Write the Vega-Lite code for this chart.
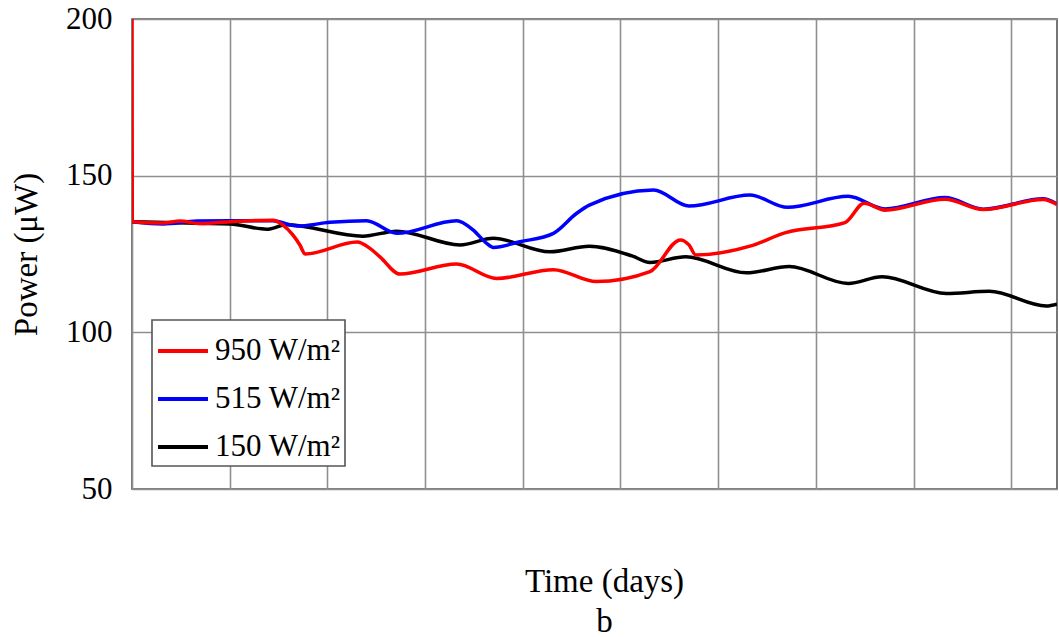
{
  "$schema": "https://vega.github.io/schema/vega-lite/v6.json",
  "width": 925,
  "height": 470,
  "autosize": {"type": "none"},
  "padding": {"left": 132, "top": 19, "right": 2, "bottom": 148},
  "background": "white",
  "config": {
    "view": {"stroke": "#555555", "strokeWidth": 1.6},
    "font": "Liberation Serif"
  },
  "data": {
    "values": [
      {"t": 0, "p": 135.3, "s": "150 W/m²"},
      {"t": 0.665, "p": 134.8, "s": "150 W/m²"},
      {"t": 1.003, "p": 134.6, "s": "150 W/m²"},
      {"t": 1.379, "p": 132.9, "s": "150 W/m²"},
      {"t": 1.58, "p": 134.3, "s": "150 W/m²"},
      {"t": 2.364, "p": 130.7, "s": "150 W/m²"},
      {"t": 2.709, "p": 132.3, "s": "150 W/m²"},
      {"t": 3.357, "p": 127.9, "s": "150 W/m²"},
      {"t": 3.698, "p": 130.0, "s": "150 W/m²"},
      {"t": 4.278, "p": 125.7, "s": "150 W/m²"},
      {"t": 4.681, "p": 127.5, "s": "150 W/m²"},
      {"t": 5.118, "p": 124.4, "s": "150 W/m²"},
      {"t": 5.302, "p": 122.3, "s": "150 W/m²"},
      {"t": 5.667, "p": 124.1, "s": "150 W/m²"},
      {"t": 6.289, "p": 119.0, "s": "150 W/m²"},
      {"t": 6.727, "p": 121.0, "s": "150 W/m²"},
      {"t": 7.331, "p": 115.6, "s": "150 W/m²"},
      {"t": 7.677, "p": 117.7, "s": "150 W/m²"},
      {"t": 8.336, "p": 112.4, "s": "150 W/m²"},
      {"t": 8.775, "p": 113.1, "s": "150 W/m²"},
      {"t": 9.359, "p": 108.4, "s": "150 W/m²"},
      {"t": 9.468, "p": 109.0, "s": "150 W/m²"},

      {"t": 0, "p": 135.3, "s": "515 W/m²"},
      {"t": 0.317, "p": 134.6, "s": "515 W/m²"},
      {"t": 0.665, "p": 135.5, "s": "515 W/m²"},
      {"t": 1.003, "p": 135.6, "s": "515 W/m²"},
      {"t": 1.443, "p": 135.6, "s": "515 W/m²"},
      {"t": 1.689, "p": 133.9, "s": "515 W/m²"},
      {"t": 2.027, "p": 135.1, "s": "515 W/m²"},
      {"t": 2.402, "p": 135.6, "s": "515 W/m²"},
      {"t": 2.709, "p": 131.6, "s": "515 W/m²"},
      {"t": 3.323, "p": 135.6, "s": "515 W/m²"},
      {"t": 3.49, "p": 132.7, "s": "515 W/m²"},
      {"t": 3.63, "p": 128.4, "s": "515 W/m²"},
      {"t": 3.698, "p": 127.1, "s": "515 W/m²"},
      {"t": 3.971, "p": 128.9, "s": "515 W/m²"},
      {"t": 4.314, "p": 131.6, "s": "515 W/m²"},
      {"t": 4.552, "p": 138.0, "s": "515 W/m²"},
      {"t": 4.681, "p": 140.6, "s": "515 W/m²"},
      {"t": 5.339, "p": 145.4, "s": "515 W/m²"},
      {"t": 5.701, "p": 140.3, "s": "515 W/m²"},
      {"t": 6.325, "p": 143.8, "s": "515 W/m²"},
      {"t": 6.709, "p": 139.9, "s": "515 W/m²"},
      {"t": 7.331, "p": 143.4, "s": "515 W/m²"},
      {"t": 7.707, "p": 139.4, "s": "515 W/m²"},
      {"t": 8.321, "p": 143.0, "s": "515 W/m²"},
      {"t": 8.713, "p": 139.3, "s": "515 W/m²"},
      {"t": 9.327, "p": 142.6, "s": "515 W/m²"},
      {"t": 9.468, "p": 141.0, "s": "515 W/m²"},

      {"t": 0, "p": 200, "s": "950 W/m²"},
      {"t": 0.003, "p": 135.3, "s": "950 W/m²"},
      {"t": 0.317, "p": 134.9, "s": "950 W/m²"},
      {"t": 0.491, "p": 135.5, "s": "950 W/m²"},
      {"t": 0.696, "p": 134.7, "s": "950 W/m²"},
      {"t": 1.003, "p": 135.3, "s": "950 W/m²"},
      {"t": 1.443, "p": 135.8, "s": "950 W/m²"},
      {"t": 1.546, "p": 134.2, "s": "950 W/m²"},
      {"t": 1.648, "p": 131.0, "s": "950 W/m²"},
      {"t": 1.72, "p": 127.8, "s": "950 W/m²"},
      {"t": 1.771, "p": 125.0, "s": "950 W/m²"},
      {"t": 2.303, "p": 128.8, "s": "950 W/m²"},
      {"t": 2.436, "p": 126.8, "s": "950 W/m²"},
      {"t": 2.538, "p": 124.1, "s": "950 W/m²"},
      {"t": 2.743, "p": 118.6, "s": "950 W/m²"},
      {"t": 3.323, "p": 121.8, "s": "950 W/m²"},
      {"t": 3.733, "p": 117.2, "s": "950 W/m²"},
      {"t": 4.314, "p": 120.0, "s": "950 W/m²"},
      {"t": 4.753, "p": 116.2, "s": "950 W/m²"},
      {"t": 5.302, "p": 119.4, "s": "950 W/m²"},
      {"t": 5.613, "p": 129.5, "s": "950 W/m²"},
      {"t": 5.701, "p": 127.9, "s": "950 W/m²"},
      {"t": 5.77, "p": 124.7, "s": "950 W/m²"},
      {"t": 6.325, "p": 127.5, "s": "950 W/m²"},
      {"t": 6.691, "p": 131.8, "s": "950 W/m²"},
      {"t": 7.298, "p": 135.0, "s": "950 W/m²"},
      {"t": 7.495, "p": 141.2, "s": "950 W/m²"},
      {"t": 7.707, "p": 139.0, "s": "950 W/m²"},
      {"t": 8.321, "p": 142.5, "s": "950 W/m²"},
      {"t": 8.713, "p": 139.2, "s": "950 W/m²"},
      {"t": 9.327, "p": 142.4, "s": "950 W/m²"},
      {"t": 9.468, "p": 140.8, "s": "950 W/m²"}
    ]
  },
  "mark": {"type": "line", "strokeWidth": 3.5, "interpolate": "monotone", "clip": true},
  "encoding": {
    "x": {
      "field": "t",
      "type": "quantitative",
      "scale": {"domain": [0, 9.468], "nice": false, "zero": false},
      "axis": {
        "values": [0, 1, 2, 3, 4, 5, 6, 7, 8, 9],
        "labels": false,
        "ticks": false,
        "domain": false,
        "grid": true,
        "gridColor": "#8f8f8f",
        "gridWidth": 1.6,
        "gridOpacity": 1,
        "title": ["Time (days)", "b"],
        "titleFont": "Liberation Serif",
        "titleFontSize": 33,
        "titleFontWeight": "normal",
        "titleColor": "#000000",
        "titleLineHeight": 40,
        "titlePadding": 76,
        "titleX": 472
      }
    },
    "y": {
      "field": "p",
      "type": "quantitative",
      "scale": {"domain": [50, 200], "nice": false, "zero": false},
      "axis": {
        "values": [50, 100, 150, 200],
        "ticks": false,
        "domain": false,
        "grid": true,
        "gridColor": "#8f8f8f",
        "gridWidth": 1.6,
        "gridOpacity": 1,
        "labelFont": "Liberation Serif",
        "labelFontSize": 31,
        "labelColor": "#000000",
        "labelPadding": 20,
        "labelFlush": false,
        "title": "Power (μW)",
        "titleFont": "Liberation Serif",
        "titleFontSize": 33,
        "titleFontWeight": "normal",
        "titleColor": "#000000",
        "titlePadding": 22
      }
    },
    "color": {
      "field": "s",
      "type": "nominal",
      "scale": {
        "domain": ["950 W/m²", "515 W/m²", "150 W/m²"],
        "range": ["#ff0000", "#0000ff", "#000000"]
      },
      "legend": {
        "title": null,
        "orient": "none",
        "legendX": 20,
        "legendY": 301,
        "fillColor": "#ffffff",
        "strokeColor": "#555555",
        "padding": 4,
        "symbolType": "stroke",
        "symbolSize": 2500,
        "symbolStrokeWidth": 4,
        "labelFont": "Liberation Serif",
        "labelFontSize": 31,
        "labelColor": "#000000",
        "labelOffset": 5,
        "labelLimit": 300,
        "rowPadding": 6,
        "encode": {"legend": {"update": {"strokeWidth": {"value": 1.6}}}}
      }
    }
  }
}
